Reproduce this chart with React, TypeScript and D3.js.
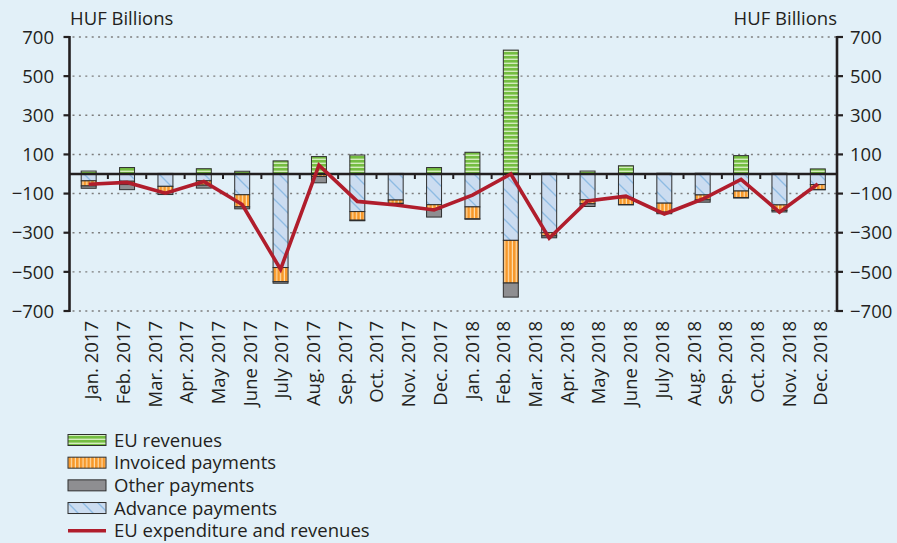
import React from "react";
import * as d3 from "d3";

// ---- data (HUF billions) ----
const monthLabels = [
  "Jan. 2017", "Feb. 2017", "Mar. 2017", "Apr. 2017", "May 2017", "June 2017",
  "July 2017", "Aug. 2017", "Sep. 2017", "Oct. 2017", "Nov. 2017", "Dec. 2017",
  "Jan. 2018", "Feb. 2018", "Mar. 2018", "Apr. 2018", "May 2018", "June 2018",
  "July 2018", "Aug. 2018", "Sep. 2018", "Oct. 2018", "Nov. 2018", "Dec. 2018",
];
// bars / line points as drawn in the picture (20 periods)
const euRevenues = [15, 33, 3, 27, 14, 67, 89, 97, 3, 33, 111, 633, 4, 15, 42, 4, 4, 94, 4, 26];
const advancePayments = [-35, -37, -63, -35, -106, -478, -3, -192, -133, -157, -168, -339, -300, -132, -122, -149, -107, -87, -158, -54];
const invoicedPayments = [-26, -17, -31, -22, -62, -72, -10, -44, -17, -22, -61, -218, -16, -20, -34, -46, -25, -33, -28, -25];
const otherPayments = [-12, -26, -11, -15, -10, -8, -32, -3, -4, -41, -2, -72, -10, -14, -2, -8, -12, -3, -8, -2];
const expenditureAndRevenues = [-52, -43, -98, -38, -156, -487, 45, -140, -158, -184, -108, 0, -328, -138, -113, -204, -128, -27, -195, -51];
const yTicks = [700, 500, 300, 100, -100, -300, -500, -700];

const seriesKeys = ["revenues", "advance", "invoiced", "other"];
const seriesNames: Record<string, string> = {
  revenues: "EU revenues",
  invoiced: "Invoiced payments",
  other: "Other payments",
  advance: "Advance payments",
};
const fills: Record<string, string> = {
  revenues: "url(#pGreen)",
  invoiced: "url(#pOrange)",
  other: "#8e8e91",
  advance: "url(#pBlue)",
};

const W = 897;
const H = 543;
const X0 = 69.5;
const X1 = 837;
const FS = 18.5;
const FONT = "'Open Sans', 'Noto Sans', sans-serif";
const TXT = "#231f20";

export default function App() {
  const periods = d3.range(euRevenues.length);
  const table = periods.map((i) => ({
    revenues: euRevenues[i],
    advance: advancePayments[i],
    invoiced: invoicedPayments[i],
    other: otherPayments[i],
  }));

  const y = d3.scaleLinear().domain([-700, 700]).range([311, 37]);
  const x = d3
    .scaleBand<number>()
    .domain(periods)
    .range([X0, X1])
    .paddingInner(0.61)
    .paddingOuter(0.305);
  const bw = x.bandwidth();
  const cx = (i: number) => (x(i) as number) + bw / 2;

  const xLab = d3
    .scalePoint<string>()
    .domain(monthLabels)
    .range([cx(0), cx(periods.length - 1)]);

  const stacked = d3
    .stack<any>()
    .keys(seriesKeys)
    .offset(d3.stackOffsetDiverging)(table);

  const line = d3
    .line<number>()
    .x((_, i) => cx(i))
    .y((d) => y(d));

  const step = x.step();
  const sepTicks = d3.range(1, periods.length).map((k) => X0 + k * step);

  const legendItems = ["revenues", "invoiced", "other", "advance"];
  const legendY = d3.scalePoint<string>()
    .domain([...legendItems, "line"])
    .range([440, 530.7]);

  const fmt = (v: number) => (v < 0 ? "\u2212" + Math.abs(v) : String(v));

  return (
    <svg
      width={W}
      height={H}
      style={{ position: "absolute", left: 0, top: 0, background: "#e2f0f8" }}
      fontFamily={FONT}
    >
      <defs>
        <pattern id="pGreen" width={4} height={4} patternUnits="userSpaceOnUse">
          <rect width={4} height={4} fill="#74bd41" />
          <rect y={2.6} width={4} height={1.4} fill="#d3ecbd" />
        </pattern>
        <pattern id="pOrange" width={3.8} height={4} patternUnits="userSpaceOnUse">
          <rect width={3.8} height={4} fill="#f7982a" />
          <rect x={2.6} width={1.2} height={4} fill="#fddcab" />
        </pattern>
        <pattern id="pBlue" width={15} height={15} patternUnits="userSpaceOnUse">
          <rect width={15} height={15} fill="#cbdcf0" />
          <line x1={0} y1={0} x2={15} y2={15} stroke="#8ebbe3" strokeWidth={1.3} />
          <line x1={-1} y1={14} x2={1} y2={16} stroke="#8ebbe3" strokeWidth={1.3} />
          <line x1={14} y1={-1} x2={16} y2={1} stroke="#8ebbe3" strokeWidth={1.3} />
        </pattern>
      </defs>

      {/* gridlines */}
      {yTicks.map((t) => (
        <line
          key={"g" + t}
          x1={X0 + 3}
          x2={X1}
          y1={y(t)}
          y2={y(t)}
          stroke="#7d7d7d"
          strokeWidth={1.4}
          strokeDasharray="2 4.4"
        />
      ))}

      {/* bars */}
      {stacked.map((s) => (
        <g key={s.key}>
          {s.map((d, i) => {
            const top = y(Math.max(d[0], d[1]));
            const bot = y(Math.min(d[0], d[1]));
            if (bot - top <= 0) return null;
            return (
              <rect
                key={i}
                x={x(i)}
                y={top}
                width={bw}
                height={bot - top}
                fill={fills[s.key]}
                stroke="#2e2e2e"
                strokeWidth={1}
              />
            );
          })}
        </g>
      ))}

      {/* zero line and ticks */}
      <line x1={X0} x2={X1} y1={y(0)} y2={y(0)} stroke={TXT} strokeWidth={2.6} />
      {sepTicks.map((tx, k) => (
        <line key={"s" + k} x1={tx} x2={tx} y1={y(0)} y2={y(0) + 5} stroke={TXT} strokeWidth={2} />
      ))}

      {/* line series */}
      <path
        d={line(expenditureAndRevenues) || ""}
        fill="none"
        stroke="#b01d2c"
        strokeWidth={3.6}
        strokeLinejoin="miter"
      />

      {/* axes */}
      <line x1={X0} x2={X0} y1={y(700) - 1} y2={y(-700) + 1} stroke={TXT} strokeWidth={2.6} />
      <line x1={X1} x2={X1} y1={y(700) - 1} y2={y(-700) + 1} stroke={TXT} strokeWidth={2.6} />
      {yTicks.map((t) => (
        <g key={"t" + t}>
          <line x1={X0 - 6} x2={X0} y1={y(t)} y2={y(t)} stroke={TXT} strokeWidth={2.2} />
          <line x1={X1} x2={X1 + 6} y1={y(t)} y2={y(t)} stroke={TXT} strokeWidth={2.2} />
          <text x={54} y={y(t)} dy="0.36em" textAnchor="end" fontSize={FS} fill={TXT}>
            {fmt(t)}
          </text>
          <text x={850} y={y(t)} dy="0.36em" textAnchor="start" fontSize={FS} fill={TXT}>
            {fmt(t)}
          </text>
        </g>
      ))}
      <text x={70} y={24.5} fontSize={FS} fill={TXT}>HUF Billions</text>
      <text x={837} y={24.5} fontSize={FS} fill={TXT} textAnchor="end">HUF Billions</text>

      {/* category labels */}
      {monthLabels.map((m) => (
        <text
          key={m}
          transform={`translate(${xLab(m)},321) rotate(-90)`}
          dy={9.5}
          textAnchor="end"
          fontSize={FS}
          fill={TXT}
        >
          {m}
        </text>
      ))}

      {/* legend */}
      {legendItems.map((k) => (
        <g key={"l" + k}>
          <rect
            x={68}
            y={(legendY(k) as number) - 5.5}
            width={38}
            height={11}
            fill={fills[k]}
            stroke="#2e2e2e"
            strokeWidth={1}
          />
          <text x={114} y={legendY(k)} dy="0.36em" fontSize={FS} fill={TXT}>
            {seriesNames[k]}
          </text>
        </g>
      ))}
      <line
        x1={68}
        x2={106}
        y1={legendY("line")}
        y2={legendY("line")}
        stroke="#b01d2c"
        strokeWidth={3.6}
      />
      <text x={114} y={legendY("line")} dy="0.36em" fontSize={FS} fill={TXT}>
        EU expenditure and revenues
      </text>
    </svg>
  );
}
